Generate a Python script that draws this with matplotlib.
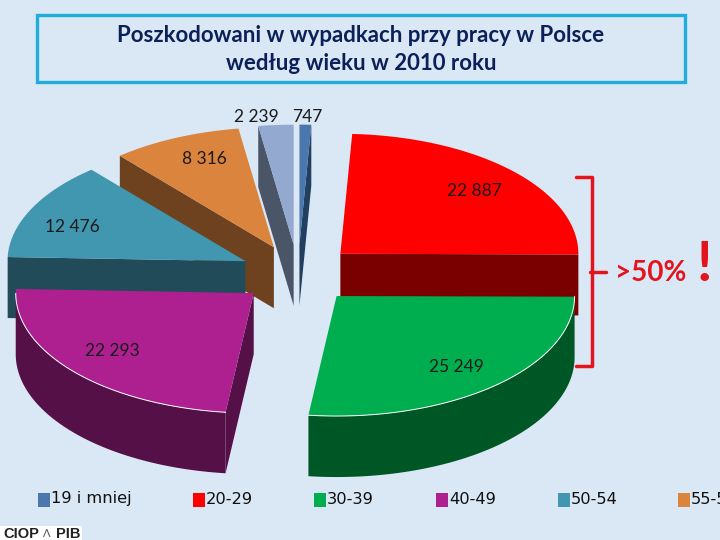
#!/usr/bin/env python3
import numpy as np
import matplotlib
matplotlib.use('Agg')
import matplotlib.pyplot as plt
from matplotlib.patches import Polygon, Rectangle

###############################################################################
# data
groups = ['19 i mniej', '20-29', '30-39', '40-49', '50-54', '55-59']
values = [747, 22887, 25249, 22293, 12476, 8316, 2239]
value_labels = ['747', '22 887', '25 249', '22 293', '12 476', '8 316', '2 239']

###############################################################################
# layout, all in pixels of the 720x540 picture
top_colors = ['#4A78AE', '#FF0000', '#00AE50', '#AE2090', '#4297B0', '#DB843D', '#93A9CF']
side_colors = ['#223F60', '#7A0000', '#005726', '#551047', '#214B58', '#6E421E', '#4A5568']
draw_order = [6, 0, 5, 4, 1, 3, 2]
label_pos = [(307, 117), (474, 191), (456, 367), (112, 351), (72, 227), (204, 159), (256, 117)]
legend_x = [38, 193, 314, 436, 558, 678]
cx, cy = 298, 274
rx, ry = 238, 120
depth = 61
explode = 0.245
bg = '#DAE8F5'

plt.rcParams['font.family'] = ['Lato', 'DejaVu Sans']

fig = plt.figure(figsize=(7.2, 5.4), dpi=100, facecolor=bg)
ax = fig.add_axes([0, 0, 1, 1])
ax.set_xlim(0, 720)
ax.set_ylim(540, 0)
ax.axis('off')

# angles run clockwise from the top of the pie
def pt(ox, oy, angle):
    return ox + rx*np.sin(angle), oy - ry*np.cos(angle)

def slice_patches(a0, a1, color, side, z):
    mid = (a0 + a1)/2
    ox, oy = pt(cx, cy, mid)
    ox = cx + (ox - cx)*explode
    oy = cy + (oy - cy)*explode
    t = np.linspace(a0, a1, 80)
    ax_, ay_ = pt(ox, oy, t)

    # radial cut faces, only those turned to the viewer
    if np.sin(a0) < 0:
        x0, y0 = pt(ox, oy, a0)
        ax.add_patch(Polygon([(x0, y0), (ox, oy), (ox, oy+depth), (x0, y0+depth)],
                             fc=side, ec='none', zorder=z))
    if np.sin(a1) > 0:
        x1, y1 = pt(ox, oy, a1)
        ax.add_patch(Polygon([(x1, y1), (ox, oy), (ox, oy+depth), (x1, y1+depth)],
                             fc=side, ec='none', zorder=z))

    # outer wall, front half only
    front = np.cos(t) < 0
    if front.any():
        wx, wy = ax_[front], ay_[front]
        ax.add_patch(Polygon(np.r_[np.c_[wx, wy], np.c_[wx, wy+depth][::-1]],
                             fc=side, ec='none', zorder=z))
        ax.plot(wx, wy, color='white', lw=0.7, zorder=z+0.2)

    ax.add_patch(Polygon(np.r_[[(ox, oy)], np.c_[ax_, ay_]], fc=color, ec='none', zorder=z+0.1))

###############################################################################
# pie
ends = np.cumsum(values) / np.sum(values) * 2*np.pi
starts = np.r_[0, ends[:-1]]
for n, i in enumerate(draw_order):
    slice_patches(starts[i], ends[i], top_colors[i], side_colors[i], 2 + n)

for lab, (x, y) in zip(value_labels, label_pos):
    ax.text(x, y, lab, fontsize=12.5, color='#1A1A1A', ha='center', va='center', zorder=20)

###############################################################################
# title box
navy = '#0B2058'
ax.add_patch(Rectangle((36.5, 14.5), 648, 67, fc='none', ec='#1FAEDC', lw=2.4, zorder=1))
ax.text(361, 36, 'Poszkodowani w wypadkach przy pracy w Polsce', fontsize=16, fontweight='bold',
        ha='center', va='center', color=navy)
ax.text(361, 64, 'według wieku w 2010 roku', fontsize=16, fontweight='bold',
        ha='center', va='center', color=navy)

###############################################################################
# bracket and note
red = '#E2141E'
ax.plot([576, 592, 592, 576], [177, 177, 366, 366], color=red, lw=2.5, zorder=21,
        solid_joinstyle='round', solid_capstyle='round')
ax.plot([590, 606], [272, 272], color=red, lw=2.5, zorder=21, solid_capstyle='round')
ax.text(651, 273, '>50%', fontsize=20, fontweight='bold', color=red, ha='center', va='center')
ax.text(704, 265, '!', fontsize=40, fontweight='bold', color=red, ha='center', va='center')

###############################################################################
# legend
for x, name, col in zip(legend_x, groups, top_colors):
    ax.add_patch(Rectangle((x, 493), 12, 13.5, fc=col, ec='none'))
    ax.text(x + 13, 499, name, fontsize=11.7, color='#101010', ha='left', va='center',
            family='DejaVu Sans')

# logo
ax.add_patch(Rectangle((0, 526), 82, 14, fc='white', ec='none'))
ax.text(3, 533.5, 'CIOP', fontsize=10.5, fontweight='bold', color='#222222', ha='left', va='center',
        family='Liberation Sans')
ax.text(46.5, 533.5, 'Λ', fontsize=8, color='#555555', ha='center', va='center')
ax.text(80, 533.5, 'PIB', fontsize=10.5, fontweight='bold', color='#222222', ha='right', va='center',
        family='Liberation Sans')

fig.savefig('out.png', dpi=100, facecolor=bg)
